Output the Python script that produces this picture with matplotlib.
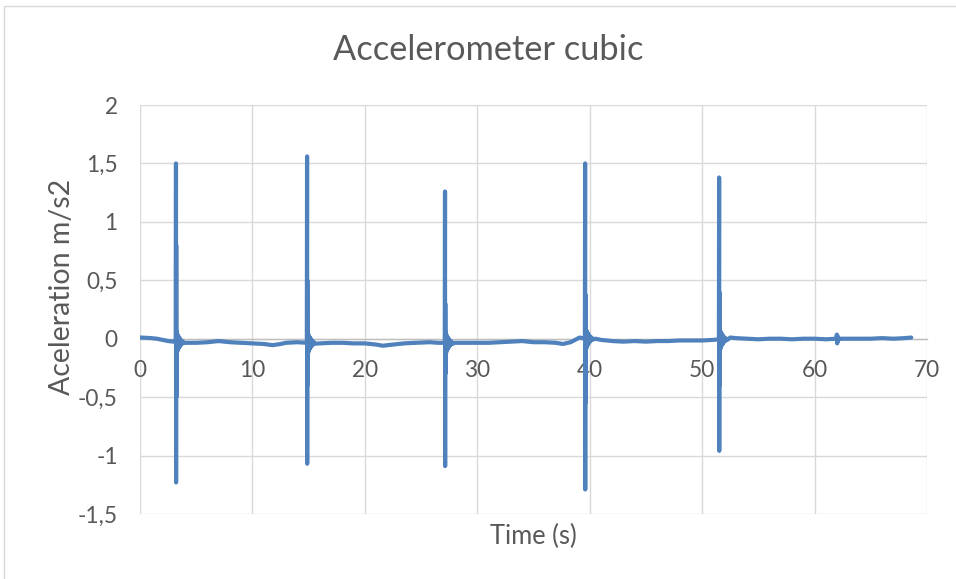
import numpy as np
import matplotlib
matplotlib.use("Agg")
import matplotlib.pyplot as plt
from matplotlib.patches import Rectangle

plt.rcParams["font.family"] = ["Lato", "DejaVu Sans"]

# Slowly drifting baseline of the accelerometer trace (s, m/s2)
base_t = [0, 0.5, 1, 1.5, 2, 2.5, 3, 4, 5, 6, 7, 7.5, 8, 9, 10, 11, 11.8, 12.5,
          13, 14, 15.5, 16, 17, 18, 19, 20, 21, 21.6, 22.5, 23.5, 24.5, 25.8,
          26.5, 28, 29, 30, 31, 32, 33, 34, 35, 36, 37, 37.6, 38.3, 39.1, 40.5,
          41, 42, 43, 44, 45, 46, 47, 48, 49, 50, 51, 52.5, 53, 54, 55, 56, 57,
          58, 59, 60, 61, 63, 64, 65, 66, 67, 68, 68.6]
base_v = [0.01, 0.008, 0.005, 0.0, -0.01, -0.02, -0.025, -0.035, -0.035, -0.03,
          -0.02, -0.025, -0.03, -0.035, -0.04, -0.045, -0.055, -0.045, -0.035,
          -0.03, -0.04, -0.04, -0.035, -0.035, -0.04, -0.04, -0.05, -0.06, -0.05,
          -0.04, -0.035, -0.03, -0.035, -0.035, -0.035, -0.035, -0.035, -0.03,
          -0.025, -0.02, -0.03, -0.03, -0.035, -0.045, -0.03, 0.01, 0.0, -0.01,
          -0.02, -0.025, -0.02, -0.025, -0.02, -0.02, -0.015, -0.015, -0.015,
          -0.01, 0.01, 0.005, 0.0, -0.005, 0.0, 0.0, -0.005, 0.0, 0.0, -0.005,
          0.0, 0.0, 0.0, 0.005, 0.0, 0.005, 0.01]

# Impacts: time, peak, trough, secondary swings and local baseline
spike_t = [3.2, 14.86, 27.13, 39.59, 51.51]
spike_max = [1.50, 1.56, 1.26, 1.50, 1.38]
spike_min = [-1.23, -1.07, -1.09, -1.29, -0.96]
spike_hi2 = [0.80, 0.50, 0.30, 0.38, 0.40]
spike_lo2 = [-0.50, -0.40, -0.30, -0.55, -0.40]
spike_base = [-0.03, -0.035, -0.035, 0.0, -0.005]

# Ringing after each impact (offset in s, deviation in m/s2)
ring_dt = [0.06, 0.09, 0.12, 0.15, 0.18, 0.21, 0.25, 0.29, 0.33, 0.38, 0.44, 0.5, 0.58, 0.68]
ring_dv = [0.09, -0.09, 0.07, -0.07, 0.055, -0.055, 0.045, -0.045, 0.035, -0.03, 0.02, -0.018, 0.01, -0.008]

# Small disturbance near 62 s
blip_t = [61.95, 61.98, 62.01, 62.04, 62.08, 62.12]
blip_v = [0.0, 0.035, -0.04, 0.025, -0.02, 0.0]

pts = list(zip(base_t, base_v)) + list(zip(blip_t, blip_v))
for t0, hi, lo, hi2, lo2, b in zip(spike_t, spike_max, spike_min, spike_hi2, spike_lo2, spike_base):
    pts += [(t0 - 0.02, b), (t0, hi), (t0 + 0.01, lo), (t0 + 0.02, hi2),
            (t0 + 0.03, lo2), (t0 + 0.04, b)]
    pts += [(t0 + dt, b + dv) for dt, dv in zip(ring_dt, ring_dv)]
pts.sort(key=lambda p: p[0])
t = np.array([p[0] for p in pts])
a = np.array([p[1] for p in pts])

W, H = 956, 579
fig = plt.figure(figsize=(W / 100, H / 100), dpi=100)
fig.patches.append(Rectangle((4 / W, -0.02), 1.2, 1.02 - 6 / H, transform=fig.transFigure,
                             fill=False, edgecolor="#d9d9d9", linewidth=1.0))
ax = fig.add_axes([140 / W, 1 - 514 / H, 787 / W, 409 / H])

ax.plot(t, a, color="#4f81bd", linewidth=3.0, solid_joinstyle="round",
        solid_capstyle="round", zorder=3)

ax.set_xlim(0, 70)
ax.set_ylim(-1.5, 2)
ax.set_xticks(np.arange(0, 71, 10))
ax.set_yticks(np.arange(-1.5, 2.01, 0.5))
ax.set_yticklabels(["-1,5", "-1", "-0,5", "0", "0,5", "1", "1,5", "2"])
ax.grid(True, color="#d9d9d9", linewidth=1.0, zorder=0)
ax.set_axisbelow(True)

for s in ["top", "right", "left"]:
    ax.spines[s].set_visible(False)
ax.spines["bottom"].set_position(("data", 0))
ax.spines["bottom"].set_color("#bfbfbf")
ax.spines["bottom"].set_linewidth(1.0)
ax.spines["bottom"].set_zorder(1)

renderer = fig.canvas.get_renderer()


def fit_size(txt, target_px, along="x"):
    """Scale a text's font size so its extent along one direction is target_px."""
    for _ in range(3):
        bb = txt.get_window_extent(renderer)
        cur = bb.width if along == "x" else bb.height
        txt.set_fontsize(txt.get_fontsize() * target_px / cur)
    return txt.get_fontsize()


gray = "#595959"
title = fig.text(488 / W, 1 - 50 / H, "Accelerometer cubic", ha="center", va="center",
                 fontsize=24, color=gray)
fit_size(title, 310, "x")
xlab = fig.text(533 / W, 1 - 536 / H, "Time (s)", ha="center", va="center",
                fontsize=18, color=gray)
fit_size(xlab, 87, "x")
ylab = fig.text(62 / W, 1 - 287 / H, "Aceleration m/s2", ha="center", va="center",
                rotation=90, fontsize=20, color=gray)
fit_size(ylab, 217, "y")

probe = fig.text(0, 0, "-1,5", fontsize=16)
tick_fs = fit_size(probe, 40, "x")
probe.remove()

ax.tick_params(axis="both", length=0, labelsize=tick_fs, labelcolor=gray)
ax.tick_params(axis="x", pad=15)
ax.tick_params(axis="y", pad=16)

fig.savefig("out.png", dpi=100)
